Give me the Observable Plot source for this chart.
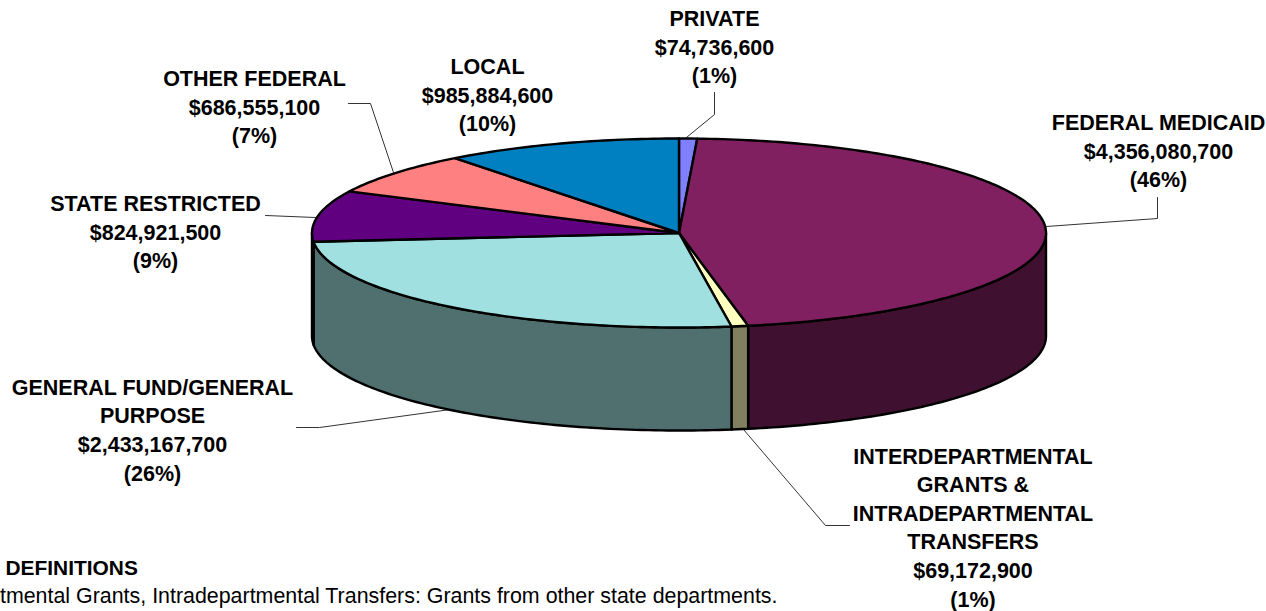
<!DOCTYPE html>
<html>
<head>
<meta charset="utf-8">
<script src="https://cdn.jsdelivr.net/npm/d3@7"></script>
<script src="https://cdn.jsdelivr.net/npm/@observablehq/plot@0.6"></script>
<style>
html,body{margin:0;padding:0;background:#fff;overflow:hidden}
svg{display:block}
</style>
</head>
<body>
<div id="chart"></div>
<script>
// Data, clockwise from twelve o'clock
const categories = ["PRIVATE","FEDERAL MEDICAID","INTERDEPARTMENTAL GRANTS & INTRADEPARTMENTAL TRANSFERS","GENERAL FUND/GENERAL PURPOSE","STATE RESTRICTED","OTHER FEDERAL","LOCAL"];
const values = [74736600,4356080700,69172900,2433167700,824921500,686555100,985884600];
const labelLines = [["PRIVATE"],["FEDERAL MEDICAID"],["INTERDEPARTMENTAL","GRANTS &","INTRADEPARTMENTAL","TRANSFERS"],["GENERAL FUND/GENERAL","PURPOSE"],["STATE RESTRICTED"],["OTHER FEDERAL"],["LOCAL"]];
const topColors = ["#8080ff","#802060","#ffffc0","#a0e0e0","#600080","#ff8080","#0080c0"];
const sideColors = ["#404080","#401030","#808060","#507070","#300040","#804040","#004060"];
const definitionsTitle = "DEFINITIONS";
const definitionsText = "Interdepartmental Grants, Intradepartmental Transfers: Grants from other state departments.";

// Layout (pixel-valued domain)
const W = 1266, H = 611;
const cx = 678.5, cy = 232.5, rx = 367, ry = 94.5, depth = 103;
const labelX = [714,1158,972.5,152,155,254,487];
const labelY = [45,149,525.5,428,230,105,93];
const leaders = [
  [[714,92],[714,114],[686,137]],
  [[1157,197],[1157,218],[1046,226]],
  [[743,429],[825,525],[849,525]],
  [[296,427],[319,427],[450,409]],
  [[265,215],[315,217]],
  [[348,103],[370,103],[393,172]]
];

const total = d3.sum(values);
const money = d3.format(",");
const rad = d => d * Math.PI / 180;
const px = a => cx + rx * Math.sin(rad(a));
const py = a => cy - ry * Math.cos(rad(a));

let cum = 0;
const slices = categories.map((name,i) => {
  const a0 = cum / total * 360; cum += values[i]; const a1 = cum / total * 360;
  return {name, i, a0, a1};
});
const arcAngles = (a0,a1) => {
  const n = Math.max(2, Math.ceil((a1-a0)));
  return d3.range(n+1).map(k => a0 + (a1-a0)*k/n);
};

// Top faces
const topPts = slices.flatMap(s => {
  const ring = [[cx,cy],...arcAngles(s.a0,s.a1).map(a=>[px(a),py(a)]),[cx,cy]];
  return ring.map(([x,y]) => ({x,y,key:s.name}));
});
// Side walls: only the front half of the rim (90..270 degrees)
const sidePts = slices.flatMap(s => {
  const a0 = Math.max(s.a0,90), a1 = Math.min(s.a1,270);
  if (a1 <= a0) return [];
  const as = arcAngles(a0,a1);
  const ring = [...as.map(a=>[px(a),py(a)]),...as.slice().reverse().map(a=>[px(a),py(a)+depth])];
  ring.push(ring[0]);
  return ring.map(([x,y]) => ({x,y,key:s.name+" side"}));
});
const leaderPts = leaders.flatMap((l,i)=>l.map(([x,y])=>({x,y,id:i})));
const labels = categories.map((name,i)=>({
  x: labelX[i], y: labelY[i],
  text: [...labelLines[i], "$"+money(values[i]), "("+Math.round(values[i]/total*100)+"%)"].join("\n")
}));

const font = "Liberation Sans, Arial, sans-serif";
const plot = Plot.plot({
  width: W, height: H,
  margin: 0,
  style: {background:"#fff"},
  x: {domain:[0,W], range:[0,W], axis:null},
  y: {domain:[0,H], range:[0,H], axis:null},
  color: {
    type:"ordinal",
    domain:[...categories,...categories.map(c=>c+" side")],
    range:[...topColors,...sideColors]
  },
  marks: [
    Plot.line(leaderPts,{x:"x",y:"y",z:"id",stroke:"#333",strokeWidth:1}),
    Plot.line(sidePts,{x:"x",y:"y",z:"key",fill:"key",stroke:"#000",strokeWidth:2.4,strokeLinejoin:"round"}),
    Plot.line(topPts,{x:"x",y:"y",z:"key",fill:"key",stroke:"#000",strokeWidth:2.4,strokeLinejoin:"round"}),
    Plot.text(labels,{x:"x",y:"y",text:"text",lineHeight:1.33,fontSize:21.5,fontWeight:"bold",fontFamily:font,fill:"#000",textAnchor:"middle"}),
    Plot.text([definitionsTitle],{x:()=>5,y:()=>568,text:d=>d,textAnchor:"start",fontSize:20.9,fontWeight:"bold",fontFamily:font,fill:"#000"}),
    Plot.text([definitionsText],{x:()=>777,y:()=>596,text:d=>d,textAnchor:"end",fontSize:21.4,fontFamily:font,fill:"#000"})
  ]
});
document.getElementById("chart").appendChild(plot);
</script>
</body>
</html>
